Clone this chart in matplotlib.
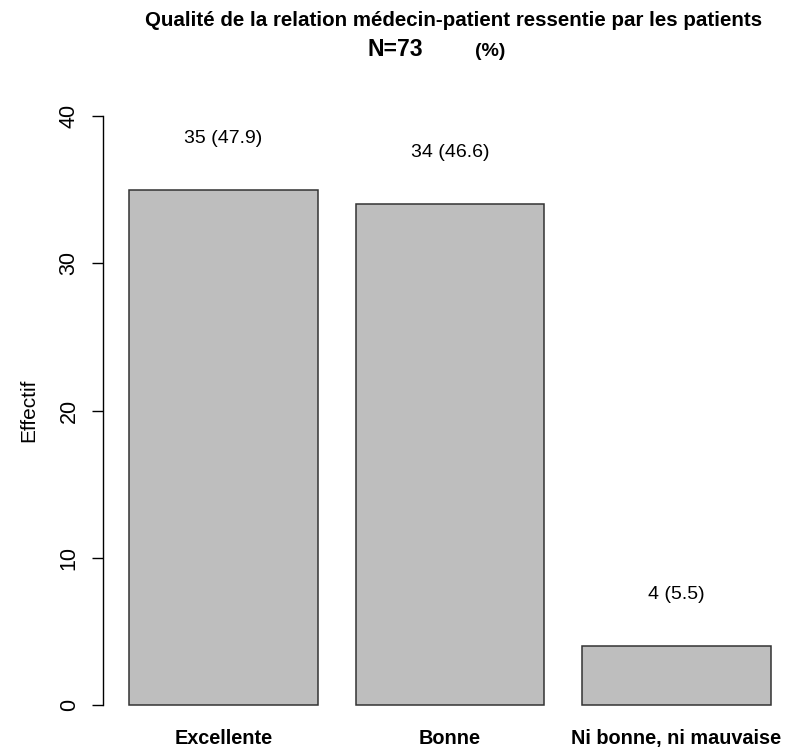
import matplotlib
matplotlib.use("Agg")
import matplotlib.pyplot as plt

# données
categories = ["Excellente", "Bonne", "Ni bonne, ni mauvaise"]
effectifs = [35, 34, 4]
pourcents = [47.9, 46.6, 5.5]
yticks = [0, 10, 20, 30, 40]

plt.rcParams['font.family'] = ['Liberation Sans', 'DejaVu Sans']

W, H = 788, 749
fig = plt.figure(figsize=(W / 100, H / 100), dpi=100)

# zone de tracé façon R barplot (xlim étendu de 4 %)
ax = fig.add_axes([103.3 / W, (H - 728.6) / H, 693.3 / W, 636.2 / H])

x = [0.7 + 1.2 * i for i in range(len(categories))]
ax.bar(x, effectifs, width=1.0, color="#bebebe", edgecolor="#333333", linewidth=1.1)

for xi, n, p in zip(x, effectifs, pourcents):
    ax.text(xi, n + 3.5, f"{n} ({p})", ha="center", va="center", fontsize=14)

ax.set_xlim(0.064, 3.736)
ax.set_ylim(-1.6, 41.6)

for s in ["top", "right", "bottom"]:
    ax.spines[s].set_visible(False)
ax.spines["left"].set_bounds(0, 40)
ax.spines["left"].set_linewidth(1.0)

ax.set_yticks(yticks)
ax.set_yticklabels([str(t) for t in yticks], rotation=90, va="center", fontsize=15.5)
ax.tick_params(axis="y", length=8, width=1.0, pad=9)

ax.set_xticks(x)
ax.set_xticklabels(categories, fontsize=14.3, fontweight="bold")
ax.tick_params(axis="x", length=0, pad=0.2)

fig.text(29 / W, 1 - 410 / H, "Effectif", rotation=90, ha="center", va="center", fontsize=15)

fig.text(454 / W, 1 - 21 / H, "Qualité de la relation médecin-patient ressentie par les patients",
         ha="center", va="center", fontsize=14.8, fontweight="bold")
fig.text(395 / W, 1 - 50 / H, "N=73", ha="center", va="center", fontsize=16.6, fontweight="bold")
fig.text(490 / W, 1 - 51 / H, "(%)", ha="center", va="center", fontsize=14, fontweight="bold")

fig.savefig("out.png", dpi=100)
